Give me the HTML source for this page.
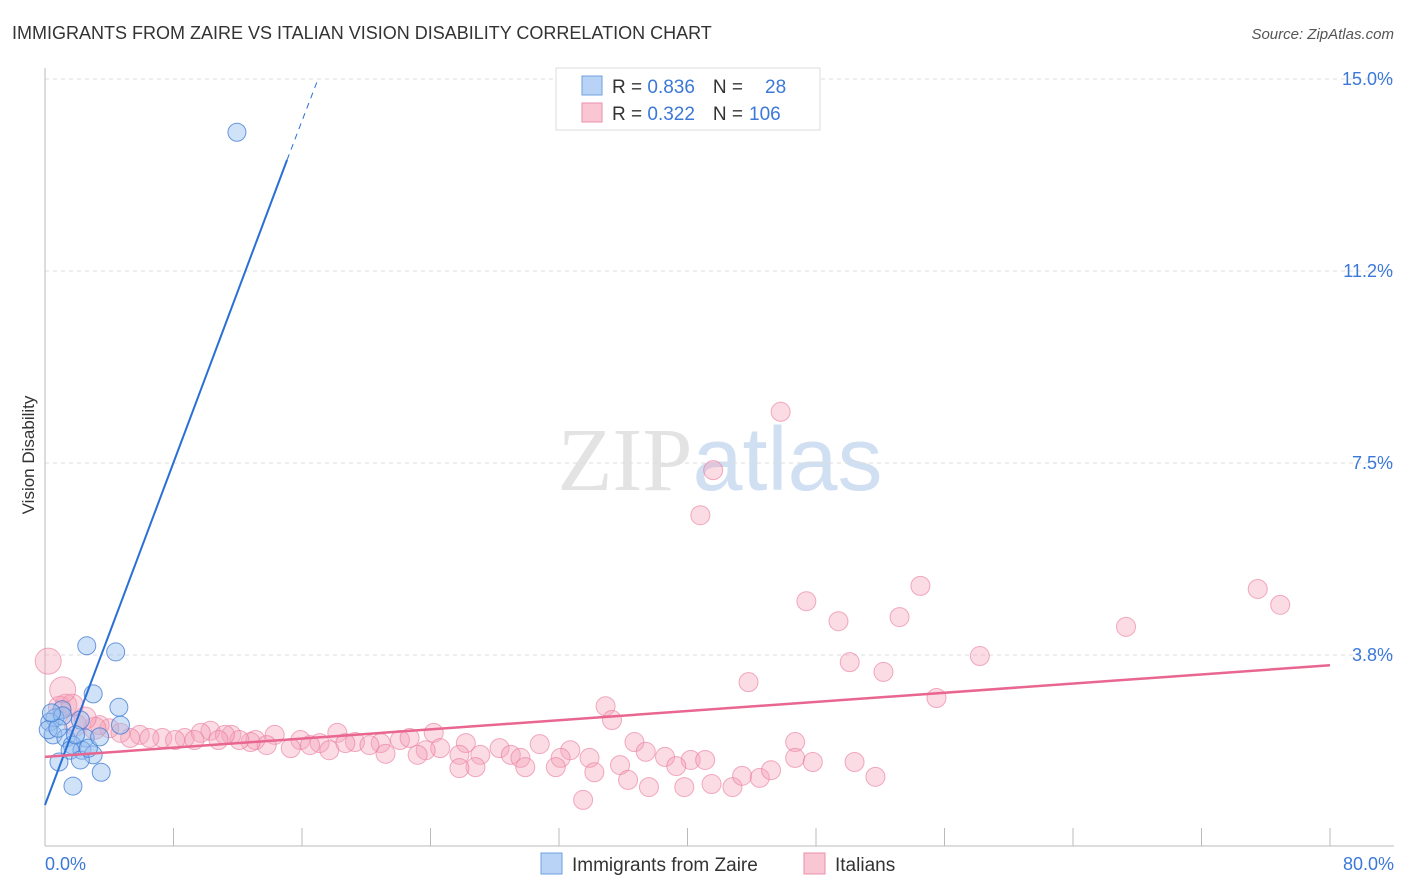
<!DOCTYPE html>
<html><head><meta charset="utf-8"><style>
body{margin:0;background:#fff;font-family:"Liberation Sans",sans-serif}
svg{display:block}
</style></head><body>
<svg id="chart" width="1406" height="892" viewBox="0 0 1406 892" xmlns="http://www.w3.org/2000/svg">
<text x="12" y="39" font-size="18" fill="#333" font-family="Liberation Sans, sans-serif">IMMIGRANTS FROM ZAIRE VS ITALIAN VISION DISABILITY CORRELATION CHART</text>
<text x="1394" y="39" font-size="15" fill="#555" font-style="italic" text-anchor="end">Source: ZipAtlas.com</text>
<text x="720" y="490" font-size="90" text-anchor="middle" font-family="Liberation Serif, serif" fill="#ddd" opacity="0.8">ZIP<tspan fill="#c5d8ef" font-family="Liberation Sans, sans-serif">atlas</tspan></text>
<text transform="translate(34,455) rotate(-90)" font-size="17" fill="#333" text-anchor="middle">Vision Disability</text>
<g id="grid"></g><g id="axes"></g><g id="pink"></g><g id="blue"></g><g id="lines"></g>
<g>
<rect x="556" y="68" width="264" height="62" fill="#fff" stroke="#ddd"/>
<rect x="582" y="76" width="20" height="19" fill="#b8d3f5" stroke="#6fa0e0"/>
<rect x="582" y="103" width="20" height="19" fill="#f9c6d4" stroke="#ea8fab"/>
<text x="612" y="93" font-size="19" fill="#333">R = <tspan fill="#3b78d8">0.836</tspan><tspan dx="18">N =</tspan><tspan fill="#3b78d8" dx="22">28</tspan></text>
<text x="612" y="120" font-size="19" fill="#333">R = <tspan fill="#3b78d8">0.322</tspan><tspan dx="18">N =</tspan><tspan fill="#3b78d8" dx="6">106</tspan></text>
</g>
<g>
<rect x="541" y="853" width="21" height="21" fill="#b8d3f5" stroke="#6fa0e0"/>
<text x="572" y="871" font-size="19" fill="#333">Immigrants from Zaire</text>
<rect x="804" y="853" width="21" height="21" fill="#f9c6d4" stroke="#ea8fab"/>
<text x="835" y="871" font-size="19" fill="#333">Italians</text>
</g>
</svg>
<script>
const yTicks=[3.75,7.5,11.25,15];
const yTickLabels=["3.8%","7.5%","11.2%","15.0%"];
const xLabels=["0.0%","80.0%"];
const blueX=[11.95,2.6,4.4,3.0,4.6,4.7,1.06,0.62,0.3,0.5,1.3,2.2,2.5,1.7,2.3,1.56,3.0,2.2,0.87,3.5,1.74,0.2,1.1,1.9,0.8,2.7,3.4,0.4];
const blueY=[13.96,3.93,3.81,2.99,2.73,2.38,2.68,2.52,2.44,2.19,2.13,2.48,2.13,1.99,1.89,1.89,1.8,1.7,1.66,1.46,1.19,2.29,2.56,2.19,2.32,1.93,2.15,2.62];
const pinkX=[41.6,45.8,40.8,54.5,75.5,76.9,47.4,49.4,53.2,67.3,58.2,50.1,52.2,43.8,55.5,34.9,35.3,46.7,24.2,18.2,14.3,10.3,11.6,5.9,7.3,8.7,9.7,13.1,15.9,17.1,19.3,20.9,22.1,22.7,26.2,28.3,30.8,32.7,24.6,23.7,25.8,27.1,29.0,29.6,32.1,33.9,36.7,37.4,38.6,40.2,41.1,46.7,47.8,50.4,35.8,31.8,29.9,26.8,34.2,39.3,36.3,37.6,39.8,41.5,42.8,43.4,44.5,45.2,51.7,33.5,25.8,23.2,21.2,20.2,18.7,17.7,16.5,15.3,13.8,12.8,12.1,11.2,10.8,9.3,8.1,6.5,5.3,4.7,4.0,3.4,3.1,2.5,1.9,1.3,0.9,1.7,0.2,1.1];
const pinkY=[7.36,8.50,6.48,5.10,5.04,4.73,4.80,4.41,4.49,4.30,3.73,3.61,3.42,3.22,2.91,2.75,2.48,2.05,2.23,2.23,2.19,2.27,2.19,2.19,2.13,2.13,2.23,2.09,2.09,2.03,2.05,2.03,2.09,2.13,2.03,1.93,2.01,1.89,1.93,1.89,1.80,1.80,1.80,1.74,1.74,1.74,2.05,1.86,1.76,1.70,1.70,1.74,1.66,1.66,1.60,1.56,1.56,1.56,1.46,1.58,1.31,1.17,1.17,1.23,1.17,1.39,1.35,1.50,1.37,0.92,1.54,1.80,1.82,1.99,2.03,1.89,1.99,1.93,1.99,2.05,2.09,2.19,2.09,2.09,2.09,2.13,2.13,2.23,2.32,2.38,2.32,2.52,2.38,2.77,2.73,2.77,3.63,3.07];
const blueLine=[[0,0.82],[15.07,13.42],[17.0,15.0]];
const pinkLine=[[0,1.76],[80,3.55]];
const X=v=>45+v*1285/80, Y=v=>847-v*51.2;
const NS="http://www.w3.org/2000/svg";
function mk(tag,attrs,parent){const e=document.createElementNS(NS,tag);for(const k in attrs)e.setAttribute(k,attrs[k]);document.getElementById(parent).appendChild(e);return e;}
yTicks.forEach((t,i)=>{
 const g=mk('line',{x1:45,x2:1394,y1:Y(t),y2:Y(t),stroke:'#ddd','stroke-dasharray':'4,4'},'grid');
 
 
 const l=mk('text',{x:1393,y:Y(t)+6,'font-size':18,fill:'#3b78d8','text-anchor':'end'},'grid');
 l.textContent=yTickLabels[i];
 
 
});
const ax=mk('line',{x1:45,x2:45,y1:68,y2:846,stroke:'#bbb'},'axes');


const bx=mk('line',{x1:45,x2:1394,y1:846,y2:846,stroke:'#bbb'},'axes');


for(let i=1;i<=10;i++){const t=mk('line',{x1:X(i*8),x2:X(i*8),y1:828,y2:846,stroke:'#bbb'},'axes');
 
 }
[[0,'start',45],[80,'end',1394]].forEach((d,i)=>{const t=mk('text',{x:d[2],y:870,'font-size':18,fill:'#3b78d8','text-anchor':d[1]},'axes');t.textContent=xLabels[i];
 
 });
pinkX.forEach((x,i)=>{const r=i>=pinkX.length-2?13:(i>=pinkX.length-8?11:9.5);
 const c=mk('circle',{cx:X(x),cy:Y(pinkY[i]),r:r,fill:'rgba(244,160,185,0.38)',stroke:'rgba(234,120,155,0.6)','stroke-width':1},'pink');
 
 });
blueX.forEach((x,i)=>{const c=mk('circle',{cx:X(x),cy:Y(blueY[i]),r:9,fill:'rgba(150,190,240,0.45)',stroke:'rgba(60,120,210,0.75)','stroke-width':1},'blue');
 
 });
const b1=mk('line',{x1:X(blueLine[0][0]),y1:Y(blueLine[0][1]),x2:X(blueLine[1][0]),y2:Y(blueLine[1][1]),stroke:'#2a6fd6','stroke-width':2},'lines');


const b2=mk('line',{x1:X(blueLine[1][0]),y1:Y(blueLine[1][1]),x2:X(blueLine[2][0]),y2:Y(blueLine[2][1]),stroke:'#2a6fd6','stroke-width':1,'stroke-dasharray':'6,5'},'lines');


const p1=mk('line',{x1:X(pinkLine[0][0]),y1:Y(pinkLine[0][1]),x2:X(pinkLine[1][0]),y2:Y(pinkLine[1][1]),stroke:'#e8668f','stroke-width':2.5},'lines');


</script>
</body></html>
